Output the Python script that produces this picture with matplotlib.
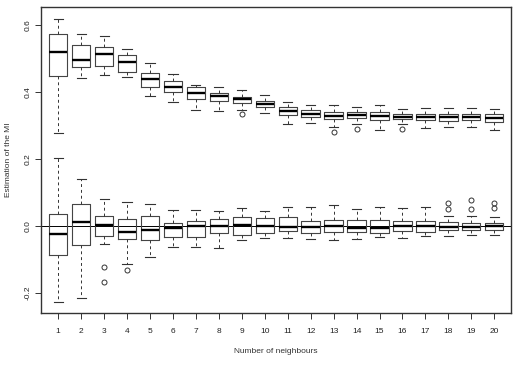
import matplotlib
matplotlib.use("Agg")
import matplotlib.pyplot as plt
import numpy as np

plt.rcParams["font.family"] = ["Liberation Sans", "DejaVu Sans"]

neighbours = list(range(1, 21))

# upper group: estimates of the MI
upper_whislo = [0.276, 0.442, 0.450, 0.443, 0.388, 0.370, 0.347, 0.344, 0.347, 0.337,
                0.303, 0.306, 0.296, 0.303, 0.286, 0.303, 0.292, 0.295, 0.294, 0.287]
upper_q1 = [0.448, 0.474, 0.477, 0.459, 0.414, 0.400, 0.378, 0.372, 0.367, 0.354,
            0.331, 0.324, 0.319, 0.321, 0.315, 0.318, 0.317, 0.314, 0.316, 0.311]
upper_med = [0.518, 0.496, 0.512, 0.490, 0.437, 0.415, 0.397, 0.387, 0.380, 0.364,
             0.343, 0.335, 0.328, 0.330, 0.327, 0.325, 0.326, 0.325, 0.325, 0.321]
upper_q3 = [0.573, 0.540, 0.532, 0.509, 0.457, 0.432, 0.413, 0.395, 0.385, 0.372,
            0.354, 0.346, 0.339, 0.340, 0.339, 0.333, 0.334, 0.334, 0.333, 0.333]
upper_whishi = [0.617, 0.573, 0.565, 0.527, 0.487, 0.453, 0.421, 0.415, 0.404, 0.390,
                0.370, 0.362, 0.362, 0.356, 0.360, 0.350, 0.351, 0.351, 0.351, 0.350]
upper_fliers = [[], [], [], [], [], [], [], [], [0.334], [],
                [], [], [0.280], [0.290], [], [0.290], [], [], [], []]

# lower group: estimates around zero
lower_whislo = [-0.226, -0.215, -0.052, -0.112, -0.091, -0.063, -0.062, -0.066, -0.041, -0.036,
                -0.035, -0.038, -0.041, -0.038, -0.032, -0.035, -0.030, -0.030, -0.028, -0.026]
lower_q1 = [-0.085, -0.055, -0.031, -0.038, -0.042, -0.034, -0.034, -0.022, -0.028, -0.020,
            -0.016, -0.021, -0.019, -0.019, -0.022, -0.016, -0.017, -0.013, -0.011, -0.013]
lower_med = [-0.023, 0.012, 0.002, -0.018, -0.011, -0.006, 0.000, 0.001, 0.004, 0.000,
             -0.004, -0.003, -0.001, -0.005, -0.007, -0.001, -0.001, -0.003, -0.003, -0.001]
lower_q3 = [0.036, 0.065, 0.029, 0.020, 0.030, 0.008, 0.015, 0.020, 0.026, 0.023,
            0.028, 0.015, 0.017, 0.017, 0.019, 0.015, 0.016, 0.011, 0.008, 0.009]
lower_whishi = [0.202, 0.139, 0.081, 0.072, 0.065, 0.047, 0.049, 0.046, 0.055, 0.046,
                0.056, 0.058, 0.064, 0.051, 0.056, 0.054, 0.056, 0.030, 0.030, 0.027]
lower_fliers = [[], [], [-0.122, -0.167], [-0.132], [], [], [], [], [], [],
                [], [], [], [], [], [], [], [0.051, 0.069], [0.050, 0.077], [0.053, 0.069]]

y_ticks = [-0.2, 0.0, 0.2, 0.4, 0.6]


def build_stats(whislo, q1, med, q3, whishi, fliers):
    return [
        dict(whislo=a, q1=b, med=c, q3=d, whishi=e, fliers=np.array(f))
        for a, b, c, d, e, f in zip(whislo, q1, med, q3, whishi, fliers)
    ]


fig = plt.figure(figsize=(5.14, 3.71), dpi=100)
ax = fig.add_axes([41 / 514, 1 - 313 / 371, 470 / 514, 306 / 371])

box_style = dict(color="#444444", linewidth=0.8)
style = dict(
    widths=0.8,
    capwidths=0.4,
    boxprops=box_style,
    medianprops=dict(color="black", linewidth=1.7, solid_capstyle="butt"),
    whiskerprops=dict(color="#333333", linewidth=0.7, linestyle=(0, (3, 3))),
    capprops=dict(color="#333333", linewidth=0.8),
    flierprops=dict(marker="o", markersize=3.6, markerfacecolor="none",
                    markeredgecolor="#333333", markeredgewidth=0.7),
    manage_ticks=False,
)

ax.bxp(build_stats(upper_whislo, upper_q1, upper_med, upper_q3, upper_whishi, upper_fliers),
       positions=neighbours, **style)
ax.bxp(build_stats(lower_whislo, lower_q1, lower_med, lower_q3, lower_whishi, lower_fliers),
       positions=neighbours, **style)

ax.axhline(0, color="black", linewidth=0.7, zorder=0.5)

ax.set_xlim(0.25, 20.73)
ax.set_ylim(-0.259, 0.6526)

ax.set_xticks(neighbours)
ax.set_xticklabels([str(n) for n in neighbours])
ax.set_yticks(y_ticks)
ax.set_yticklabels([f"{v:.1f}" for v in y_ticks], rotation=90, va="center")

ax.tick_params(axis="both", labelsize=6, length=4, width=0.7, colors="#333333",
               labelcolor="#222222")
ax.tick_params(axis="x", pad=7)
ax.tick_params(axis="y", pad=3)
for spine in ax.spines.values():
    spine.set_linewidth(1.0)
    spine.set_color("#333333")

ax.set_xlabel("Number of neighbours", fontsize=6, color="#333333", labelpad=9)
ax.set_ylabel("Estimation of the MI", fontsize=6, color="#333333", labelpad=9)

fig.savefig("out.png", dpi=100)
